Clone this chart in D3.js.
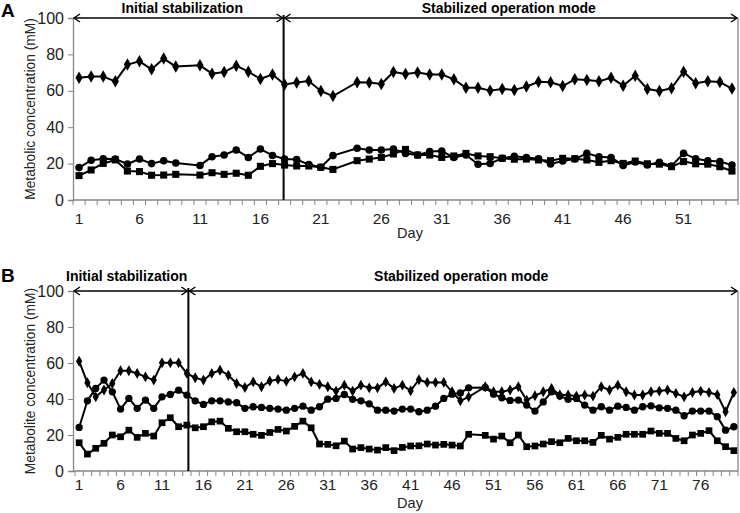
<!DOCTYPE html>
<html><head><meta charset="utf-8">
<script src="https://cdn.jsdelivr.net/npm/d3@7/dist/d3.min.js"></script>
<style>
html,body{margin:0;padding:0;background:#fff;}
text{font-family:"Liberation Sans",Arial,sans-serif;}
</style></head>
<body><svg id="chart" width="740" height="513"></svg>
<script>
// ---------- DATA ----------
const daysA = d3.range(1, 56);
const daysB = d3.range(1, 81);
const yTicks = [0, 20, 40, 60, 80, 100];
const xLabelsA = [1, 6, 11, 16, 21, 26, 31, 36, 41, 46, 51];
const xLabelsB = [1, 6, 11, 16, 21, 26, 31, 36, 41, 46, 51, 56, 61, 66, 71, 76];
const phaseLabels = ["Initial stabilization", "Stabilized operation mode"];
const separatorDayA = 18;
const separatorDayB = 14;

const diamondA = [67.2,67.8,67.8,65.2,74.4,76.2,71.8,77.7,73.3,null,
  74.0,69.4,70.3,73.8,70.5,66.5,69.0,63.5,64.5,65.4,
  59.9,57.1,null,64.7,64.5,63.7,70.3,69.2,70.1,69.0,
  69.0,66.3,61.7,61.7,60.1,61.0,60.5,62.3,65.0,64.7,
  62.6,66.3,65.9,65.2,67.2,62.8,68.3,61.0,59.9,61.4,
  70.5,64.1,65.2,64.8,61.2];
const circleA = [17.8,21.8,22.7,22.5,19.8,22.5,20.0,21.6,20.3,null,
  19.0,23.8,24.7,27.5,23.4,28.0,24.5,22.5,22.2,19.5,
  18.0,24.4,null,28.4,27.5,27.5,28.0,25.6,24.7,26.6,
  26.9,23.4,24.7,19.6,20.1,22.9,24.0,23.4,22.7,19.8,
  21.4,22.5,25.6,23.8,23.4,19.0,20.9,19.2,20.7,18.7,
  25.6,22.7,21.6,21.1,19.2];
const squareA = [13.4,16.5,20.1,22.0,15.9,15.6,13.6,13.7,14.1,null,
  13.7,15.0,14.1,14.7,13.6,18.5,20.0,19.2,18.7,18.7,
  18.0,16.8,null,21.6,22.5,23.4,25.3,27.8,24.7,24.7,
  23.4,24.2,25.6,24.2,23.8,22.9,22.4,22.5,22.0,21.6,
  22.9,22.7,22.0,20.7,21.6,20.1,21.4,19.9,19.7,18.3,
  21.1,19.9,19.7,18.3,15.9];

const diamondB = [61.0,49.0,41.2,45.0,48.6,55.7,55.7,54.2,52.3,50.5,
  60.1,60.1,60.1,54.2,51.8,50.5,54.2,56.0,53.2,48.6,
  46.4,49.5,46.8,50.0,50.9,49.8,52.3,54.2,49.5,48.1,
  46.8,44.4,47.7,44.4,47.7,46.2,46.2,49.5,45.9,47.7,
  44.6,50.7,49.2,49.2,49.2,44.0,39.0,41.2,null,46.8,
  44.0,44.0,45.0,46.8,39.4,41.8,44.0,45.9,42.2,42.2,
  41.6,42.2,41.6,46.8,45.0,47.7,44.0,42.2,42.2,44.0,
  44.4,45.0,43.1,41.2,43.6,44.4,43.6,42.4,32.9,43.6];
const circleB = [24.2,39.0,45.9,50.5,44.0,34.4,40.3,34.8,39.4,34.8,
  41.2,42.5,44.9,42.2,39.0,37.0,39.0,39.0,38.4,37.9,
  34.8,35.7,35.3,34.8,34.4,33.8,34.8,36.0,33.8,35.7,
  39.9,40.3,42.5,39.8,39.0,37.3,33.8,33.8,33.3,34.4,
  34.4,32.9,33.8,36.0,40.3,42.7,43.4,46.2,null,46.4,
  42.7,40.7,39.2,39.4,36.6,33.3,38.4,44.0,41.6,39.8,
  40.3,36.6,33.8,35.7,33.8,36.0,35.3,33.8,35.7,36.2,
  35.1,34.8,33.8,30.7,33.3,33.3,33.3,30.2,22.7,24.6];
const squareB = [15.7,9.4,12.6,15.4,20.0,19.0,22.7,18.7,20.9,19.4,
  26.8,29.6,24.6,25.5,24.0,24.6,27.3,27.7,23.7,21.8,
  21.8,20.4,19.8,21.4,23.1,22.2,24.8,27.7,24.0,15.0,
  14.8,14.0,16.6,12.2,13.0,12.2,11.6,13.0,11.3,13.1,
  13.9,14.0,15.0,14.4,14.8,14.4,13.9,20.4,null,19.8,
  17.7,19.4,15.7,20.0,13.5,13.9,15.0,16.3,15.7,18.1,
  16.8,16.8,15.9,19.8,17.7,18.7,20.4,20.4,20.4,22.2,
  20.9,20.9,18.1,16.8,20.0,20.9,22.4,16.8,13.5,11.3];

// ---------- DRAW ----------
const svg = d3.select("#chart");
const AX = "#868686";

function panel(cfg) {
  const g = svg.append("g");
  const x = d3.scaleBand().domain(cfg.days).range([cfg.bx0, cfg.x1]).padding(0);
  const y = d3.scaleLinear().domain([0, 100]).range([cfg.yb, cfg.yt]);
  const cx = d => x(d) + x.bandwidth() / 2;

  // y axis
  const yAxis = d3.axisLeft(y).tickValues(yTicks).tickSize(5).tickPadding(4);
  const ya = g.append("g").attr("transform", `translate(${cfg.x0},0)`).call(yAxis);
  ya.select(".domain").attr("stroke", AX).attr("stroke-width", 1.3);
  ya.selectAll(".tick line").attr("stroke", AX);
  ya.selectAll(".tick text").attr("font-size", 16).attr("fill", "#222")
    .attr("font-family", "Liberation Sans, Arial, sans-serif");

  // x axis: minor ticks at category boundaries
  const xa = g.append("g");
  xa.append("line").attr("x1", cfg.x0).attr("x2", cfg.x1).attr("y1", cfg.yb).attr("y2", cfg.yb)
    .attr("stroke", AX).attr("stroke-width", 1.3);
  const bounds = cfg.days.map(d => x(d)).concat([cfg.x1]);
  xa.selectAll("line.tk").data(bounds).join("line").attr("class", "tk")
    .attr("x1", d => d).attr("x2", d => d).attr("y1", cfg.yb).attr("y2", cfg.yb + 5)
    .attr("stroke", AX).attr("stroke-width", 1);
  xa.selectAll("text").data(cfg.xLabels).join("text")
    .attr("x", d => cx(d)).attr("y", cfg.xLabY).attr("text-anchor", "middle")
    .attr("font-size", 15.5).attr("fill", "#222").text(d => d);

  g.append("text").attr("x", 410).attr("y", cfg.dayY).attr("text-anchor", "middle")
    .attr("font-size", 14.5).attr("fill", "#222").text("Day");

  g.append("text").attr("transform", `translate(${cfg.ylabX},${(cfg.yb + cfg.yt) / 2}) rotate(-90)`)
    .attr("text-anchor", "middle").attr("font-size", 13.8).attr("fill", "#222").text(cfg.ylabel);

  // right border line
  g.append("line").attr("x1", cfg.x1).attr("x2", cfg.x1).attr("y1", cfg.yt).attr("y2", cfg.yb)
    .attr("stroke", AX).attr("stroke-width", 1.3);

  // separator
  const sx = cx(cfg.sep) + cfg.sepDx;
  g.append("line").attr("x1", sx).attr("x2", sx).attr("y1", cfg.yt - 3).attr("y2", cfg.yb)
    .attr("stroke", "#000").attr("stroke-width", 2);

  // arrows
  const ay = cfg.yt;
  const arr = g.append("g").attr("stroke", "#000").attr("fill", "none").attr("stroke-width", 1.4);
  [[cfg.x0 + 1, sx - 1], [sx + 1, cfg.x1 - 1]].forEach(([a, b]) => {
    arr.append("line").attr("x1", a).attr("x2", b).attr("y1", ay).attr("y2", ay);
    arr.append("path").attr("d", `M${a + 6},${ay - 4}L${a},${ay}L${a + 6},${ay + 4}`);
    arr.append("path").attr("d", `M${b - 6},${ay - 4}L${b},${ay}L${b - 6},${ay + 4}`);
  });

  // phase labels
  g.append("text").attr("x", (cfg.x0 + sx) / 2 + cfg.lab1dx).attr("y", cfg.titleY)
    .attr("text-anchor", "middle").attr("font-size", 14).attr("font-weight", "bold").text(phaseLabels[0]);
  g.append("text").attr("x", (sx + cfg.x1) / 2 - 2).attr("y", cfg.titleY)
    .attr("text-anchor", "middle").attr("font-size", 14).attr("font-weight", "bold").text(phaseLabels[1]);

  g.append("text").attr("x", 1).attr("y", cfg.letterY).attr("font-size", 19)
    .attr("font-weight", "bold").text(cfg.letter);

  // series
  const series = [
    {vals: cfg.diamond, shape: "diamond"},
    {vals: cfg.circle, shape: "circle"},
    {vals: cfg.square, shape: "square"}
  ];
  const line = d3.line().x(d => cx(d.day)).y(d => y(d.v));
  series.forEach(s => {
    const pts = cfg.days.map((d, i) => ({day: d, v: s.vals[i]})).filter(p => p.v != null);
    g.append("path").datum(pts).attr("d", line).attr("fill", "none")
      .attr("stroke", "#000").attr("stroke-width", 2).attr("stroke-linejoin", "round");
    const sym = s.shape === "diamond" ? d3.symbolDiamond : s.shape === "circle" ? d3.symbolCircle : d3.symbolSquare;
    const size = s.shape === "diamond" ? cfg.dSize : s.shape === "circle" ? cfg.cSize : cfg.sSize;
    g.selectAll(null).data(pts).join("path")
      .attr("transform", p => `translate(${cx(p.day)},${y(p.v)})`)
      .attr("d", d3.symbol().type(sym).size(size)).attr("fill", "#000");
  });
}

panel({days: daysA, x0: 73, bx0: 73, x1: 738, yt: 18, yb: 200, xLabels: xLabelsA, xLabY: 224, dayY: 238,
  ylabX: 35, ylabel: "Metabolic concentration (mM)", sep: separatorDayA, sepDx: -1, titleY: 12.5, lab1dx: 4,
  letter: "A", letterY: 17, diamond: diamondA, circle: circleA, square: squareA,
  dSize: 45, cSize: 45, sSize: 50});
panel({days: daysB, x0: 73, bx0: 75, x1: 738, yt: 291, yb: 471, xLabels: xLabelsB, xLabY: 490, dayY: 508,
  ylabX: 35, ylabel: "Metabolite concentration (mM)", sep: separatorDayB, sepDx: 1.5, titleY: 281, lab1dx: -4,
  letter: "B", letterY: 282, diamond: diamondB, circle: circleB, square: squareB,
  dSize: 34, cSize: 42, sSize: 45});
</script></body></html>
